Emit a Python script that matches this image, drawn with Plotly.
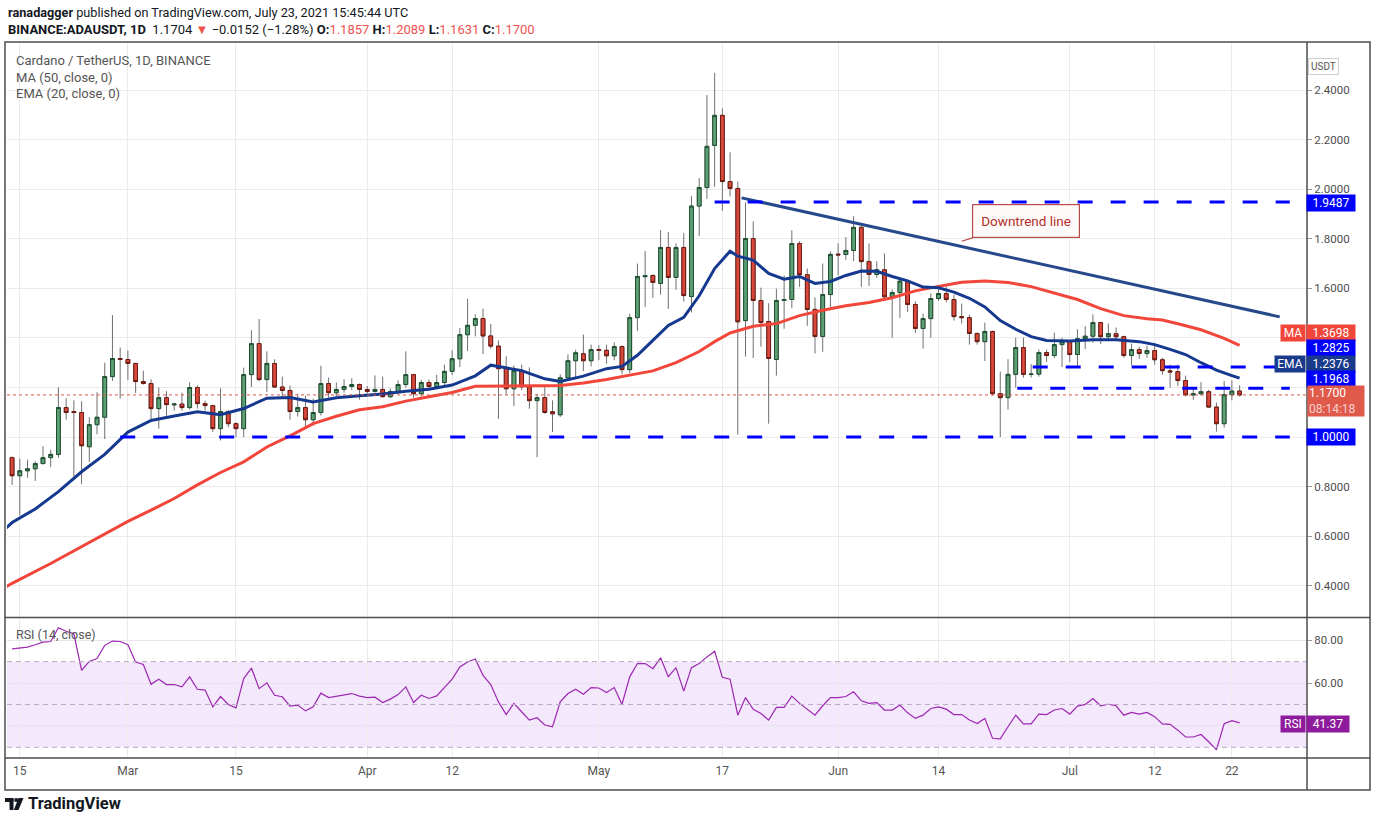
import pandas as pd
import plotly.graph_objects as go
from plotly.subplots import make_subplots

# ---- data (ADA/USDT daily, Binance) ----
start = pd.Timestamp("2021-02-14")
dates = pd.date_range(start, periods=160, freq="D")

opens = [0.917, 0.844, 0.864, 0.872, 0.893, 0.917, 0.930, 1.119, 1.103, 1.099,
         0.961, 1.050, 1.080, 1.244, 1.317, 1.313, 1.297, 1.224, 1.216, 1.115,
         1.159, 1.130, 1.133, 1.119, 1.200, 1.135, 1.127, 1.034, 1.103, 1.054,
         1.034, 1.252, 1.377, 1.232, 1.297, 1.202, 1.188, 1.103, 1.119, 1.070,
         1.099, 1.216, 1.179, 1.192, 1.204, 1.212, 1.192, 1.184, 1.192, 1.163,
         1.184, 1.212, 1.252, 1.175, 1.220, 1.204, 1.220, 1.265, 1.316, 1.413,
         1.451, 1.478, 1.408, 1.367, 1.276, 1.195, 1.268, 1.203, 1.147, 1.159,
         1.102, 1.090, 1.239, 1.308, 1.336, 1.308, 1.353, 1.350, 1.328, 1.365,
         1.272, 1.482, 1.647, 1.652, 1.620, 1.765, 1.644, 1.765, 1.567, 1.932,
         2.007, 2.177, 2.298, 2.031, 2.003, 1.470, 1.801, 1.551, 1.466, 1.313,
         1.551, 1.555, 1.781, 1.655, 1.515, 1.406, 1.575, 1.738, 1.737, 1.753,
         1.846, 1.708, 1.656, 1.675, 1.566, 1.583, 1.629, 1.535, 1.438, 1.478,
         1.559, 1.579, 1.555, 1.486, 1.482, 1.418, 1.385, 1.426, 1.175, 1.159,
         1.253, 1.361, 1.253, 1.254, 1.341, 1.329, 1.373, 1.385, 1.333, 1.397,
         1.407, 1.462, 1.405, 1.417, 1.405, 1.329, 1.353, 1.337, 1.349, 1.312,
         1.267, 1.264, 1.228, 1.170, 1.175, 1.183, 1.121, 1.054, 1.171, 1.1857]
highs = [0.922, 0.913, 0.909, 0.902, 0.963, 0.949, 1.201, 1.157, 1.148, 1.144,
         1.080, 1.181, 1.300, 1.492, 1.361, 1.349, 1.300, 1.268, 1.233, 1.201,
         1.185, 1.139, 1.179, 1.221, 1.209, 1.147, 1.130, 1.197, 1.110, 1.060,
         1.280, 1.431, 1.476, 1.346, 1.314, 1.244, 1.208, 1.175, 1.167, 1.155,
         1.288, 1.240, 1.220, 1.233, 1.237, 1.216, 1.206, 1.249, 1.244, 1.196,
         1.229, 1.346, 1.255, 1.231, 1.232, 1.251, 1.292, 1.350, 1.440, 1.558,
         1.495, 1.518, 1.457, 1.390, 1.326, 1.289, 1.292, 1.281, 1.175, 1.202,
         1.148, 1.253, 1.334, 1.352, 1.414, 1.373, 1.370, 1.373, 1.382, 1.370,
         1.498, 1.700, 1.751, 1.656, 1.835, 1.827, 1.782, 1.823, 1.972, 2.045,
         2.380, 2.469, 2.326, 2.149, 2.031, 1.947, 1.870, 1.603, 1.540, 1.599,
         1.652, 1.834, 1.790, 1.680, 1.563, 1.700, 1.749, 1.782, 1.807, 1.891,
         1.851, 1.781, 1.710, 1.741, 1.595, 1.637, 1.633, 1.548, 1.498, 1.579,
         1.609, 1.609, 1.575, 1.539, 1.494, 1.422, 1.462, 1.430, 1.264, 1.314,
         1.401, 1.401, 1.294, 1.353, 1.353, 1.421, 1.401, 1.389, 1.435, 1.447,
         1.495, 1.465, 1.458, 1.442, 1.409, 1.377, 1.365, 1.369, 1.377, 1.320,
         1.292, 1.292, 1.248, 1.197, 1.221, 1.191, 1.139, 1.226, 1.229, 1.2089]
lows = [0.807, 0.684, 0.836, 0.823, 0.890, 0.879, 0.917, 1.070, 0.836, 0.811,
        0.899, 1.011, 0.992, 1.226, 1.155, 1.231, 1.178, 1.212, 1.070, 1.034,
        1.086, 1.107, 1.107, 1.111, 1.115, 1.107, 1.021, 0.986, 1.040, 1.000,
        1.000, 1.202, 1.225, 1.182, 1.198, 1.158, 1.070, 1.083, 1.037, 1.045,
        1.087, 1.159, 1.166, 1.179, 1.190, 1.151, 1.175, 1.179, 1.159, 1.157,
        1.175, 1.200, 1.159, 1.163, 1.190, 1.200, 1.204, 1.250, 1.283, 1.347,
        1.406, 1.335, 1.357, 1.073, 1.171, 1.125, 1.190, 1.114, 0.919, 1.094,
        1.020, 1.081, 1.231, 1.235, 1.266, 1.285, 1.310, 1.296, 1.310, 1.253,
        1.258, 1.428, 1.525, 1.562, 1.575, 1.517, 1.594, 1.547, 1.503, 1.812,
        1.961, 2.010, 1.913, 1.971, 1.010, 1.325, 1.319, 1.364, 1.054, 1.248,
        1.437, 1.520, 1.606, 1.449, 1.337, 1.344, 1.525, 1.652, 1.715, 1.710,
        1.606, 1.610, 1.642, 1.552, 1.401, 1.481, 1.505, 1.420, 1.357, 1.401,
        1.550, 1.543, 1.470, 1.458, 1.373, 1.373, 1.307, 1.167, 1.000, 1.111,
        1.200, 1.240, 1.240, 1.244, 1.303, 1.319, 1.283, 1.303, 1.283, 1.355,
        1.381, 1.376, 1.389, 1.390, 1.320, 1.288, 1.316, 1.320, 1.292, 1.251,
        1.199, 1.206, 1.164, 1.150, 1.167, 1.117, 1.022, 1.038, 1.148, 1.1631]
closes = [0.844, 0.864, 0.872, 0.893, 0.917, 0.930, 1.119, 1.099, 1.099, 0.965,
          1.050, 1.080, 1.244, 1.317, 1.313, 1.297, 1.224, 1.216, 1.115, 1.159,
          1.131, 1.133, 1.119, 1.200, 1.135, 1.127, 1.034, 1.103, 1.054, 1.034,
          1.252, 1.377, 1.232, 1.297, 1.202, 1.188, 1.103, 1.119, 1.070, 1.099,
          1.216, 1.179, 1.192, 1.204, 1.212, 1.192, 1.184, 1.192, 1.163, 1.184,
          1.212, 1.252, 1.175, 1.220, 1.204, 1.220, 1.265, 1.316, 1.413, 1.451,
          1.478, 1.408, 1.367, 1.276, 1.195, 1.268, 1.203, 1.147, 1.159, 1.099,
          1.094, 1.239, 1.308, 1.340, 1.308, 1.353, 1.350, 1.328, 1.365, 1.272,
          1.482, 1.648, 1.651, 1.624, 1.765, 1.644, 1.765, 1.571, 1.932, 2.007,
          2.173, 2.298, 2.031, 2.003, 1.465, 1.801, 1.551, 1.462, 1.317, 1.551,
          1.555, 1.781, 1.655, 1.515, 1.406, 1.575, 1.737, 1.735, 1.753, 1.846,
          1.708, 1.656, 1.675, 1.566, 1.583, 1.629, 1.535, 1.438, 1.478, 1.559,
          1.579, 1.555, 1.486, 1.482, 1.418, 1.385, 1.426, 1.175, 1.159, 1.253,
          1.361, 1.253, 1.254, 1.341, 1.329, 1.373, 1.385, 1.333, 1.397, 1.407,
          1.462, 1.405, 1.417, 1.405, 1.329, 1.353, 1.337, 1.349, 1.312, 1.268,
          1.263, 1.228, 1.170, 1.175, 1.183, 1.121, 1.054, 1.171, 1.1856, 1.1700]

# EMA(20) and MA(50) (day offset from Feb 14)
ema_day = [-1, 0, 3, 6, 9, 12, 15, 18, 21, 24, 27, 30, 33, 36, 39, 42, 45, 48, 51, 54, 57,
           60, 62, 64, 66, 69, 71, 74, 77, 79, 81, 83, 85, 87, 89, 91, 93, 94, 96, 98, 100,
           102, 104, 106, 108, 110, 112, 114, 116, 118, 120, 122, 124, 126, 128, 130,
           132, 134, 137, 140, 143, 146, 148, 150, 152, 154, 156, 158, 159]
ema_val = [0.627, 0.655, 0.71, 0.78, 0.86, 0.93, 1.02, 1.067, 1.085, 1.102, 1.09,
           1.115, 1.157, 1.16, 1.142, 1.159, 1.167, 1.174, 1.185, 1.193, 1.21,
           1.247, 1.29, 1.28, 1.268, 1.235, 1.224, 1.246, 1.276, 1.285, 1.33,
           1.39, 1.45, 1.483, 1.57, 1.68, 1.75, 1.73, 1.714, 1.66, 1.637,
           1.648, 1.62, 1.628, 1.652, 1.67, 1.669, 1.648, 1.63, 1.605, 1.602,
           1.585, 1.56, 1.525, 1.47, 1.435, 1.405, 1.39, 1.388, 1.393, 1.393,
           1.385, 1.373, 1.354, 1.333, 1.30, 1.27, 1.248, 1.2376]
ma_day = [-1, 0, 5, 10, 15, 18, 21, 24, 27, 30, 33, 36, 39, 42, 45, 48, 51, 54, 57, 60,
          64, 68, 71, 74, 77, 80, 83, 86, 89, 91, 93, 96, 99, 102, 105, 108, 111, 114,
          117, 120, 123, 126, 129, 132, 135, 138, 141, 144, 147, 149, 151, 154, 157, 159]
ma_val = [0.392, 0.41, 0.49, 0.575, 0.66, 0.705, 0.752, 0.807, 0.857, 0.90,
          0.96, 1.005, 1.054, 1.084, 1.11, 1.122, 1.145, 1.163, 1.18, 1.205,
          1.206, 1.205, 1.208, 1.218, 1.232, 1.25, 1.267, 1.30, 1.345, 1.385,
          1.42, 1.447, 1.458, 1.49, 1.512, 1.53, 1.543, 1.562, 1.59, 1.608,
          1.625, 1.63, 1.624, 1.607, 1.582, 1.555, 1.518, 1.49, 1.477, 1.472,
          1.457, 1.433, 1.398, 1.3698]

rsi = [76.0, 76.3, 76.8, 77.9, 79.1, 79.4, 85.8, 84.2, 83.0, 65.9,
       70.1, 71.4, 77.6, 79.6, 79.4, 77.9, 69.8, 68.7, 59.4, 61.8,
       59.3, 59.3, 58.2, 62.9, 57.1, 56.7, 48.9, 53.7, 50.0, 48.4,
       62.1, 67.0, 57.4, 60.1, 54.3, 53.6, 49.2, 49.7, 47.0, 48.9,
       55.3, 53.2, 53.9, 54.6, 55.1, 53.9, 53.2, 53.4, 50.9, 52.5,
       54.6, 58.2, 50.9, 54.3, 52.8, 54.0, 57.7, 61.8, 67.5, 69.8,
       71.2, 63.6, 59.3, 51.2, 45.3, 50.5, 46.6, 42.7, 43.8, 40.4,
       39.6, 51.2, 55.1, 57.1, 54.8, 57.9, 57.7, 55.6, 57.9, 50.0,
       62.9, 69.1, 69.1, 66.7, 71.8, 63.0, 67.2, 56.2, 67.2, 69.1,
       72.2, 74.8, 62.7, 61.8, 45.0, 53.2, 47.7, 45.8, 42.7, 48.6,
       48.6, 53.9, 50.5, 47.7, 45.0, 49.4, 53.2, 53.2, 53.7, 55.9,
       51.7, 50.5, 50.9, 47.4, 47.4, 49.7, 46.1, 43.5, 45.0, 48.1,
       48.9, 47.8, 45.3, 45.3, 42.7, 41.1, 43.5, 34.2, 33.9, 39.6,
       45.0, 40.9, 40.9, 45.5, 45.3, 47.4, 48.1, 45.5, 49.2, 50.0,
       52.8, 49.4, 50.1, 49.4, 45.0, 46.3, 45.5, 46.3, 44.3, 40.9,
       40.7, 38.0, 34.8, 34.8, 36.0, 32.6, 28.8, 41.0, 42.4, 41.37]

# horizontal levels drawn on the chart: value, first day, last day
levels = [1.9487, 1.2825, 1.1968, 1.0000]
level_from = [91.0, 132.2, 130.2, 14.0]
level_to = [165.5, 165.5, 165.5, 165.5]

# downtrend line end points (day offset, price)
trend_day = [94.5, 164.2]
trend_px = [1.965, 1.485]

date_ticks = ["2021-02-15", "2021-03-01", "2021-03-15", "2021-04-01", "2021-04-12",
              "2021-05-01", "2021-05-17", "2021-06-01", "2021-06-14", "2021-07-01",
              "2021-07-12", "2021-07-22"]
date_labels = ["15", "Mar", "15", "Apr", "12", "May", "17", "Jun", "14", "Jul", "12", "22"]
price_ticks = [0.4, 0.6, 0.8, 1.0, 1.2, 1.4, 1.6, 1.8, 2.0, 2.2, 2.4]
price_labels = ["0.4000", "0.6000", "0.8000", "", "", "", "1.6000", "1.8000",
                "2.0000", "2.2000", "2.4000"]
rsi_ticks = [40, 60, 80]
rsi_labels = ["", "60.00", "80.00"]


def day(d):
    return start + pd.Timedelta(days=d)


# pixel helpers (plot area: x 7..1307, y 42..758)
def px_x(x):
    return (x - 7) / 1300


def px_y(y):
    return (758 - y) / 716


FONT = "Roboto"
GREEN, RED = "#5f9f76", "#d8493b"
LEVEL_BLUE = "#0000ff"

fig = make_subplots(rows=2, cols=1, shared_xaxes=True, vertical_spacing=0)

# wicks (grey) then bodies with dark borders
fig.add_trace(go.Candlestick(
    x=dates, open=opens, high=highs, low=lows, close=closes,
    increasing=dict(line=dict(color="#707070", width=1), fillcolor=GREEN),
    decreasing=dict(line=dict(color="#707070", width=1), fillcolor=RED),
    whiskerwidth=0, hoverinfo="skip", showlegend=False), row=1, col=1)
body_hi = [max(o, c) for o, c in zip(opens, closes)]
body_lo = [min(o, c) for o, c in zip(opens, closes)]
fig.add_trace(go.Candlestick(
    x=dates, open=opens, high=body_hi, low=body_lo, close=closes,
    increasing=dict(line=dict(color="#1d4f31", width=1), fillcolor=GREEN),
    decreasing=dict(line=dict(color="#6d1a13", width=1), fillcolor=RED),
    whiskerwidth=0, hoverinfo="skip", showlegend=False), row=1, col=1)

fig.add_trace(go.Scatter(x=[day(d) for d in ma_day], y=ma_val, mode="lines",
                         line=dict(color="#f2463a", width=3), hoverinfo="skip"), row=1, col=1)
fig.add_trace(go.Scatter(x=[day(d) for d in ema_day], y=ema_val, mode="lines",
                         line=dict(color="#15398f", width=3), hoverinfo="skip"), row=1, col=1)
fig.add_trace(go.Scatter(x=[day(d) for d in trend_day], y=trend_px, mode="lines",
                         line=dict(color="#27498c", width=3), hoverinfo="skip"), row=1, col=1)

# RSI
fig.add_trace(go.Scatter(x=dates, y=rsi, mode="lines",
                         line=dict(color="#9c27b0", width=1.2), hoverinfo="skip"), row=2, col=1)

shapes = []
# level lines
for v, d0, d1 in zip(levels, level_from, level_to):
    shapes.append(dict(type="line", xref="x", yref="y", x0=day(d0), x1=day(d1), y0=v, y1=v,
                       line=dict(color=LEVEL_BLUE, width=3, dash="15px,18px")))
# current price dotted line
shapes.append(dict(type="line", xref="paper", yref="y", x0=0, x1=1, y0=closes[-1], y1=closes[-1],
                   line=dict(color="#e0584a", width=1, dash="dot")))
# RSI band
shapes.append(dict(type="rect", xref="paper", yref="y2", x0=0, x1=1, y0=30, y1=70,
                   fillcolor="#f4e8fd", line=dict(width=0), layer="below"))
for v in (70, 50, 30):
    shapes.append(dict(type="line", xref="paper", yref="y2", x0=0, x1=1, y0=v, y1=v,
                       line=dict(color="#b9aac4", width=1, dash="5px,4px")))
# frame and pane separators
frame = "#4d4d4d"
shapes += [
    dict(type="rect", xref="paper", yref="paper", x0=px_x(5), x1=px_x(1370),
         y0=px_y(790), y1=px_y(42), line=dict(color=frame, width=1.5)),
    dict(type="line", xref="paper", yref="paper", x0=1, x1=1, y0=px_y(790), y1=px_y(42),
         line=dict(color=frame, width=1.5)),
    dict(type="line", xref="paper", yref="paper", x0=px_x(5), x1=px_x(1370),
         y0=px_y(617.5), y1=px_y(617.5), line=dict(color=frame, width=1.5)),
    dict(type="line", xref="paper", yref="paper", x0=px_x(5), x1=px_x(1370),
         y0=0, y1=0, line=dict(color=frame, width=1.5)),
]
# TradingView logo mark
ink = "#131722"
shapes += [
    dict(type="rect", xref="paper", yref="paper", x0=px_x(5), x1=px_x(13.5), y0=px_y(802),
         y1=px_y(798), fillcolor=ink, line=dict(width=0)),
    dict(type="rect", xref="paper", yref="paper", x0=px_x(9.5), x1=px_x(13.5), y0=px_y(810),
         y1=px_y(798), fillcolor=ink, line=dict(width=0)),
    dict(type="circle", xref="paper", yref="paper", x0=px_x(14.2), x1=px_x(18.2), y0=px_y(802),
         y1=px_y(798), fillcolor=ink, line=dict(width=0)),
    dict(type="path", xref="paper", yref="paper",
         path="M %f %f L %f %f L %f %f L %f %f Z" % (px_x(18.5), px_y(798), px_x(23.5), px_y(798),
                                                     px_x(18.5), px_y(810), px_x(13.8), px_y(810)),
         fillcolor=ink, line=dict(width=0)),
]

annotations = []


def text(x, y, s, size=13, color="#555555", anchor="left"):
    annotations.append(dict(xref="paper", yref="paper", x=px_x(x), y=px_y(y), text=s,
                            showarrow=False, xanchor=anchor, yanchor="middle",
                            font=dict(family=FONT, size=size, color=color)))


def badge(x, y, s, bg, w=44, h=14, color="white", size=12):
    annotations.append(dict(xref="paper", yref="paper", x=px_x(x), y=px_y(y), text=s,
                            showarrow=False, xanchor="center", yanchor="middle",
                            width=w, height=h, bgcolor=bg, borderpad=1,
                            font=dict(family=FONT, size=size, color=color)))


# header
text(6, 12, "<b>ranadagger</b> published on TradingView.com, July 23, 2021 15:45:44 UTC",
     size=12.7, color="#131722")
red = "#ef5350"
hdr = ("<b>BINANCE:ADAUSDT, 1D</b>  1.1704 <span style='color:%s'>▼</span> −0.0152 (−1.28%%) "
       "<b>O:</b><span style='color:%s'>%.4f</span> <b>H:</b><span style='color:%s'>%.4f</span> "
       "<b>L:</b><span style='color:%s'>%.4f</span> <b>C:</b><span style='color:%s'>%.4f</span>"
       % (red, red, opens[-1], red, highs[-1], red, lows[-1], red, closes[-1]))
text(6, 29, hdr, size=13, color="#131722")

# pane legends
text(14, 60, "Cardano / TetherUS, 1D, BINANCE", size=13, color="#555555")
text(14, 77, "MA (50, close, 0)", size=13, color="#555555")
text(14, 94, "EMA (20, close, 0)", size=13, color="#555555")
text(14, 634, "RSI (14, close)", size=12.5, color="#555555")

# USDT box
annotations.append(dict(xref="paper", yref="paper", x=px_x(1339), y=px_y(58), text="USDT",
                        showarrow=False, font=dict(family=FONT, size=10, color="#555555"),
                        bgcolor="white", bordercolor="#cfcfcf", borderwidth=1, borderpad=2))

# axis badges
badge(1331, 202.5, "%.4f" % levels[0], LEVEL_BLUE, w=46)
badge(1331, 333, "%.4f" % ma_val[-1], "#f2463a", w=46)
badge(1293, 333, "MA", "#f2463a", w=22)
badge(1331, 348, "%.4f" % levels[1], LEVEL_BLUE, w=46)
badge(1331, 364, "%.4f" % ema_val[-1], "#1a3a8c", w=46)
badge(1290, 364, "EMA", "#1a3a8c", w=28)
badge(1331, 379, "%.4f" % levels[2], LEVEL_BLUE, w=46)
annotations.append(dict(xref="paper", yref="paper", x=px_x(1307), y=px_y(401), xanchor="left",
                        yanchor="middle", showarrow=False, width=54, height=28, align="left",
                        bgcolor="#e05a4c", borderpad=1,
                        text="%.4f<br><span style='color:#f8d2cd'>08:14:18</span>" % closes[-1],
                        font=dict(family=FONT, size=12, color="white")))
badge(1331, 436.7, "%.4f" % levels[3], LEVEL_BLUE, w=46)
badge(1328, 724, "%.2f" % rsi[-1], "#8e1b9c", w=40)
badge(1293, 724, "RSI", "#8e1b9c", w=22)

# downtrend callout
annotations.append(dict(x=day(123.0), y=1.79, xref="x", yref="y", text="Downtrend line",
                        showarrow=True, arrowhead=0, arrowwidth=1.2, arrowcolor="#b94a4a",
                        ax=64, ay=-20, standoff=0, bgcolor="#fffafa", bordercolor="#b94a4a",
                        borderwidth=1.2, borderpad=8,
                        font=dict(family=FONT, size=13.5, color="#b3302b")))

# TradingView wordmark
text(26, 804, "<b>TradingView</b>", size=16.5, color=ink)

fig.update_layout(
    width=1376, height=823,
    margin=dict(l=7, r=69, t=42, b=65),
    paper_bgcolor="white", plot_bgcolor="white",
    showlegend=False, hovermode=False,
    font=dict(family=FONT, size=12, color="#4d4d4d"),
    shapes=shapes, annotations=annotations,
)
x_range = [day(-0.66), day(167.73)]
fig.update_xaxes(range=x_range, tickvals=date_ticks, ticktext=date_labels, showgrid=True,
                 gridcolor="#ebebeb", gridwidth=1, zeroline=False, showline=False,
                 rangeslider=dict(visible=False), ticks="")
fig.update_xaxes(showticklabels=False, row=1, col=1)
fig.update_xaxes(showticklabels=True, tickfont=dict(family=FONT, size=12, color="#555555"),
                 ticklabelstandoff=4, row=2, col=1)
fig.update_layout(
    xaxis=dict(domain=[0, 1]),
    xaxis2=dict(domain=[0, 1]),
    yaxis=dict(domain=[px_y(617.5), 1], range=[0.272, 2.594], side="right",
               tickvals=price_ticks, ticktext=price_labels, showgrid=True, gridcolor="#ebebeb",
               zeroline=False, ticks="outside", ticklen=4, tickcolor="#9a9a9a",
               tickfont=dict(family=FONT, size=11.5, color="#4d4d4d")),
    yaxis2=dict(domain=[0, px_y(618.5)], range=[25.0, 90.14], side="right",
                tickvals=rsi_ticks, ticktext=rsi_labels, showgrid=True, gridcolor="#e9e3ee",
                zeroline=False, ticks="outside", ticklen=4, tickcolor="#9a9a9a",
                tickfont=dict(family=FONT, size=11.5, color="#4d4d4d")),
)

# the page's default body margin would push the figure 8px right and down
fig.write_html("out.html", config={"displayModeBar": False},
               post_script="document.body.style.margin='0px';")
